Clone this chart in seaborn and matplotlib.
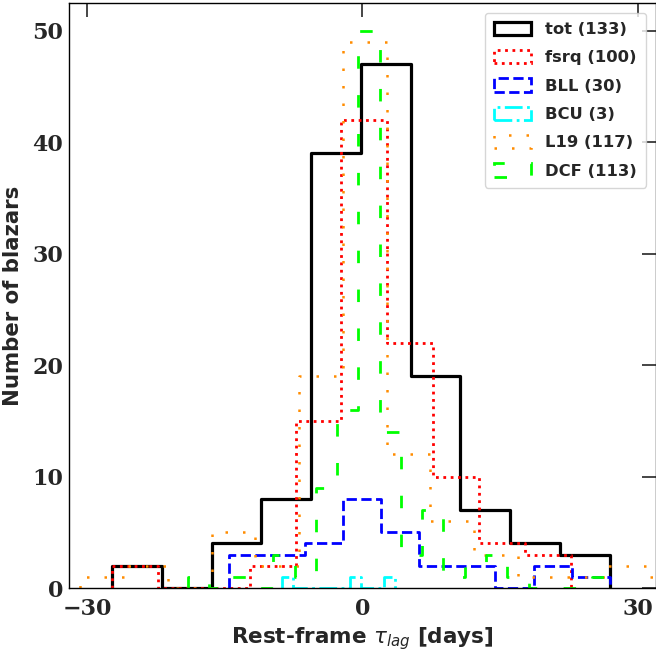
import numpy as np
import pandas as pd
import seaborn as sns
import matplotlib
matplotlib.use('Agg')
import matplotlib.pyplot as plt
from matplotlib.patches import Patch

# Rest-frame lag histograms (bin edges in days, counts per bin)
tot_edges = [-27.28, -21.86, -16.43, -11.01, -5.59, -0.17, 5.26, 10.68, 16.10, 21.53, 26.95]
tot_counts = [2, 0, 4, 8, 39, 47, 19, 7, 4, 3]

fsrq_edges = [-27.28, -22.28, -17.28, -12.29, -7.29, -2.29, 2.71, 7.71, 12.70, 17.70, 22.70]
fsrq_counts = [2, 0, 0, 2, 15, 42, 22, 10, 4, 3]

bll_edges = [-14.54, -10.39, -6.24, -2.09, 2.06, 6.21, 10.35, 14.50, 18.65, 22.80, 26.95]
bll_counts = [3, 3, 4, 8, 5, 2, 2, 0, 2, 1]

bcu_edges = [-8.77, -7.54, -6.31, -5.08, -3.85, -2.62, -1.38, -0.15, 1.08, 2.31, 3.54]
bcu_counts = [1, 0, 0, 0, 0, 0, 1, 0, 0, 1]

l19_edges = [-30.76, -25.99, -21.22, -16.45, -11.68, -6.91, -2.14, 2.63, 7.40,
             12.17, 16.94, 21.71, 26.48, 31.25, 36.02]
l19_counts = [1, 2, 0, 5, 2, 19, 49, 12, 6, 3, 1, 1, 2, 1]

dcf_edges = [-19.00, -16.68, -14.36, -12.04, -9.72, -7.40, -5.08, -2.76, -0.44, 1.88,
             4.20, 6.51, 8.83, 11.15, 13.47, 15.79, 18.11, 20.43, 22.75, 25.07, 27.39]
dcf_counts = [1, 0, 1, 0, 3, 1, 9, 16, 50, 14, 3, 7, 1, 2, 3, 1, 0, 0, 0, 1]

labels = ['tot (133)', 'fsrq (100)', 'BLL (30)', 'BCU (3)', 'L19 (117)', 'DCF (113)']
colors = ['black', 'red', 'blue', 'cyan', 'darkorange', 'lime']
styles = ['-', ':', '--', '-.', (0, (1, 6)), (0, (4.5, 9.5))]
widths = [2.3, 2.0, 2.0, 2.0, 1.8, 2.0]

sns.set_style('white')
plt.rcParams['font.family'] = ['DejaVu Sans']


def step_hist(ax, edges, counts, color, ls, lw):
    '''Draw an outline histogram that drops to zero at both ends.'''
    edges = np.asarray(edges, dtype=float)
    df = pd.DataFrame({'lag': 0.5 * (edges[:-1] + edges[1:]),
                       'n': np.asarray(counts, dtype=float)})
    eps = 1e-6
    bins = [edges[0] - eps] + list(edges) + [edges[-1] + eps]
    sns.histplot(data=df, x='lag', weights='n', bins=bins, element='step', fill=False,
                 color=color, linestyle=ls, linewidth=lw, ax=ax)


fig = plt.figure(figsize=(6.56, 6.53), dpi=100)
ax = fig.add_axes([0.105, 0.0995, 0.895, 0.8959])

series = [(tot_edges, tot_counts), (fsrq_edges, fsrq_counts), (bll_edges, bll_counts),
          (bcu_edges, bcu_counts), (l19_edges, l19_counts), (dcf_edges, dcf_counts)]
for (e, c), col, ls, lw in zip(series, colors, styles, widths):
    step_hist(ax, e, c, col, ls, lw)

ax.set_xlim(-32, 32)
ax.set_ylim(0, 52.5)
ax.set_xticks([-30, 0, 30])
ax.set_yticks(np.arange(0, 51, 10))
ax.tick_params(direction='in', length=10, width=1.2, top=True, right=True,
               labelsize=16, color='0.15')
ax.tick_params(axis='x', pad=7)
ax.tick_params(axis='y', pad=4)
for lab in ax.get_xticklabels() + ax.get_yticklabels():
    lab.set_fontfamily('DejaVu Serif')
    lab.set_fontweight('bold')
for sp in ax.spines.values():
    sp.set_color('black')
    sp.set_linewidth(1.0)

ax.set_xlabel(r'Rest-frame $\tau_{lag}$ [days]', fontsize=15.5, fontweight='bold', labelpad=4)
ax.set_ylabel('Number of blazars', fontsize=15.3, fontweight='bold', labelpad=7)

handles = [Patch(facecolor='none', edgecolor=col, linestyle=ls, linewidth=lw)
           for col, ls, lw in zip(colors, styles, widths)]
ax.legend(handles, labels, loc='upper right',
          prop={'family': 'DejaVu Sans', 'weight': 'bold', 'size': 11.8},
          handlelength=2.3, handleheight=0.85, handletextpad=0.85, labelspacing=0.8,
          borderaxespad=0.6, borderpad=0.55, frameon=True, fancybox=True,
          framealpha=0.8, edgecolor='0.8')

fig.savefig('out.png', dpi=100)
